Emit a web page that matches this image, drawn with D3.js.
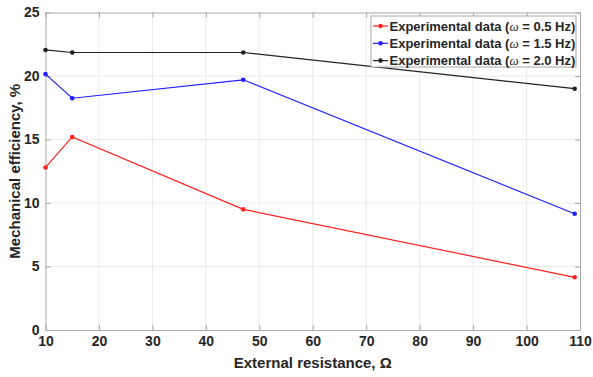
<!DOCTYPE html>
<html>
<head>
<meta charset="utf-8">
<script src="https://cdn.jsdelivr.net/npm/d3@7"></script>
<style>
  body { margin: 0; background: #fff; }
  text { font-family: Arial, "Liberation Sans", sans-serif; }
</style>
</head>
<body>
<svg id="chart" width="593" height="377"></svg>
<script>
// resistance values (ohm)
var resistance = [10, 15, 47, 109]
// mechanical efficiency (%) per frequency
var eff05 = [12.8, 15.2, 9.5, 4.15]
var eff15 = [20.15, 18.25, 19.7, 9.15]
var eff20 = [22.05, 21.85, 21.85, 19.0]

var seriesNames = ['0.5', '1.5', '2.0']
var seriesColors = ['#ff2020', '#2020ff', '#222222']
var xTicks = [10, 20, 30, 40, 50, 60, 70, 80, 90, 100, 110]
var yTicks = [0, 5, 10, 15, 20, 25]

var series = [eff05, eff15, eff20]

var margin = {left: 45.5, right: 13, top: 12.5, bottom: 47}
var width = 593, height = 377

var svg = d3.select('#chart')
var iw = width - margin.left - margin.right
var ih = height - margin.top - margin.bottom

var x = d3.scaleLinear().domain([10, 110]).range([0, iw])
var y = d3.scaleLinear().domain([0, 25]).range([ih, 0])

var g = svg.append('g')
	.attr('transform', 'translate(' + margin.left + ',' + margin.top + ')')

// grid
g.append('g').selectAll('line').data(xTicks.slice(1, -1)).enter().append('line')
	.attr('x1', d => x(d)).attr('x2', d => x(d))
	.attr('y1', 0).attr('y2', ih)
	.attr('stroke', '#ebebeb').attr('stroke-width', 1)
g.append('g').selectAll('line').data(yTicks.slice(1, -1)).enter().append('line')
	.attr('y1', d => y(d)).attr('y2', d => y(d))
	.attr('x1', 0).attr('x2', iw)
	.attr('stroke', '#ebebeb').attr('stroke-width', 1)

// axes (ticks inward, MATLAB style)
var axColor = '#a8a8a8'
var xAxis = g.append('g').attr('transform', 'translate(0,' + ih + ')')
	.call(d3.axisBottom(x).tickValues(xTicks).tickSizeInner(-5).tickSizeOuter(0).tickPadding(8))
var yAxis = g.append('g')
	.call(d3.axisLeft(y).tickValues(yTicks).tickSizeInner(-5).tickSizeOuter(0).tickPadding(6))
var xTop = g.append('g')
	.call(d3.axisTop(x).tickValues(xTicks).tickSizeInner(-5).tickSizeOuter(0).tickFormat(''))
var yRight = g.append('g').attr('transform', 'translate(' + iw + ',0)')
	.call(d3.axisRight(y).tickValues(yTicks).tickSizeInner(-5).tickSizeOuter(0).tickFormat(''))

;[xAxis, yAxis, xTop, yRight].forEach(function(a) {
	a.selectAll('path').attr('stroke', axColor)
	a.selectAll('line').attr('stroke', axColor)
	a.selectAll('text')
		.attr('fill', '#262626')
		.style('font-size', '14px')
		.style('font-weight', 'bold')
})
xAxis.selectAll('text').attr('dy', '0.55em')

// lines + markers
var line = d3.line().x((d, i) => x(resistance[i])).y(d => y(d))
series.forEach(function(s, k) {
	g.append('path').datum(s)
		.attr('fill', 'none')
		.attr('stroke', seriesColors[k])
		.attr('stroke-width', 1.2)
		.attr('d', line)
	g.selectAll('.pt' + k).data(s).enter().append('circle')
		.attr('class', 'pt' + k)
		.attr('cx', (d, i) => x(resistance[i]))
		.attr('cy', d => y(d))
		.attr('r', 2.3)
		.attr('fill', seriesColors[k])
})

// axis labels
svg.append('text')
	.attr('x', margin.left + iw / 2).attr('y', 368)
	.attr('text-anchor', 'middle')
	.attr('fill', '#262626')
	.style('font-size', '15px').style('font-weight', 'bold')
	.text('External resistance, Ω')

svg.append('text')
	.attr('transform', 'translate(20,' + (margin.top + ih / 2) + ')rotate(-90)')
	.attr('text-anchor', 'middle')
	.attr('fill', '#262626')
	.style('font-size', '15px').style('font-weight', 'bold')
	.text('Mechanical efficiency, %')

// legend
var lg = svg.append('g').attr('transform', 'translate(371,16)')
lg.append('rect')
	.attr('width', 205).attr('height', 51)
	.attr('fill', '#fff').attr('stroke', '#a8a8a8').attr('stroke-width', 1)
seriesNames.forEach(function(n, k) {
	var yy = 10 + k * 17.3
	lg.append('line')
		.attr('x1', 2).attr('x2', 17).attr('y1', yy).attr('y2', yy)
		.attr('stroke', seriesColors[k]).attr('stroke-width', 1.2)
	lg.append('circle').attr('cx', 9.5).attr('cy', yy).attr('r', 2.3).attr('fill', seriesColors[k])
	var t = lg.append('text')
		.attr('x', 18.5).attr('y', yy).attr('dy', '0.36em')
		.attr('fill', '#262626')
		.style('font-size', '13px').style('font-weight', 'bold')
	t.append('tspan').text('Experimental data (')
	t.append('tspan').style('font-style', 'italic').style('font-weight', 'normal')
		.style('font-family', '"Liberation Serif", serif').text('ω')
	t.append('tspan').text(' = ' + n + ' Hz)')
})
</script>
</body>
</html>
